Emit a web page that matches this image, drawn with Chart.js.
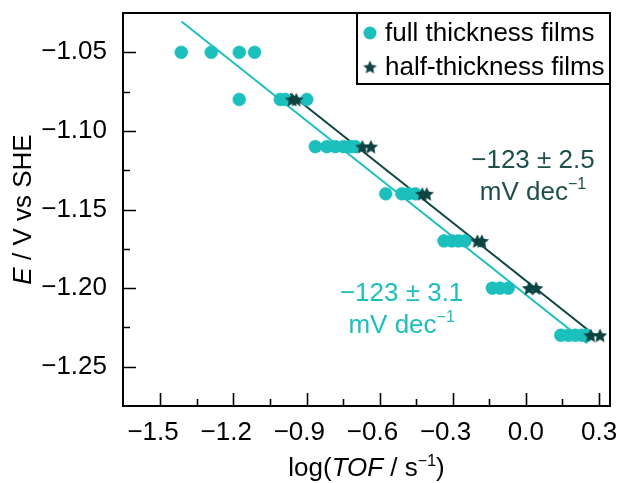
<!DOCTYPE html>
<html>
<head>
<meta charset="utf-8">
<script src="https://cdn.jsdelivr.net/npm/chart.js@4.4.1/dist/chart.umd.min.js"></script>
<style>
  html, body { margin: 0; padding: 0; background: #ffffff; }
  canvas { display: block; }
</style>
</head>
<body>
<canvas id="tafel" width="619" height="483"></canvas>
<script>
// Tafel plot: potential vs log(turnover frequency)
const fullLogTOF = [-1.414, -1.291, -1.176, -1.113,
                    -1.176, -1.008, -0.987, -0.899,
                    -0.864, -0.817, -0.782, -0.748, -0.721, -0.700,
                    -0.575, -0.509, -0.483, -0.454,
                    -0.336, -0.304, -0.277, -0.250,
                    -0.138, -0.106, -0.072,
                    0.143, 0.174, 0.202, 0.229, 0.250];
const fullE = [-1.05, -1.05, -1.05, -1.05,
               -1.08, -1.08, -1.08, -1.08,
               -1.11, -1.11, -1.11, -1.11, -1.11, -1.11,
               -1.14, -1.14, -1.14, -1.14,
               -1.17, -1.17, -1.17, -1.17,
               -1.20, -1.20, -1.20,
               -1.23, -1.23, -1.23, -1.23, -1.23];
const halfLogTOF = [-0.959, -0.942, -0.671, -0.636, -0.425, -0.407,
                    -0.199, -0.181, 0.013, 0.042, 0.266, 0.304];
const halfE = [-1.08, -1.08, -1.11, -1.11, -1.14, -1.14,
               -1.17, -1.17, -1.20, -1.20, -1.23, -1.23];
const seriesNames = ['full thickness films', 'half-thickness films'];

// Tafel fits (slope in V per decade, intercept in V, span of log TOF covered)
const fullSlope = -0.123, fullIntercept = -1.2042, fullFitSpan = [-1.413, 0.251];
const halfSlope = -0.123, halfIntercept = -1.1953, halfFitSpan = [-0.967, 0.277];
const fullSlopeText = '−123 ± 3.1';
const halfSlopeText = '−123 ± 2.5';

const xTickValues = [-1.5, -1.2, -0.9, -0.6, -0.3, 0.0, 0.3];
const xMinorValues = [-1.35, -1.05, -0.75, -0.45, -0.15, 0.15];
const yTickValues = [-1.05, -1.10, -1.15, -1.20, -1.25];
const yMinorValues = [-1.075, -1.125, -1.175, -1.225];

const CYAN = '#1bbfbc';
const DARK = '#0d4441';
const DARK_TEXT = '#1d4f4c';
const FONT = '"Liberation Sans", Arial, Helvetica, sans-serif';
const FS = 26;

function toPoints(xs, ys) { return xs.map((x, i) => ({ x: x, y: ys[i] })); }
function fitLine(slope, intercept, span) {
  return span.map(x => ({ x: x, y: intercept + slope * x }));
}
function signed(v, digits) {
  const s = Math.abs(v).toFixed(digits);
  return (v < -1e-9 ? '−' : '') + s;
}
// the number itself sits centred under its tick; the minus sign hangs to the left
function centredOnDigits(v, digits) {
  return v < -1e-9 ? signed(v, digits) + '  ' : signed(v, digits);
}

// filled five-pointed star used as the marker of the half-thickness series
function makeStar(radius, color) {
  const size = Math.ceil(radius * 2 + 2);
  const c = document.createElement('canvas');
  c.width = size; c.height = size;
  const g = c.getContext('2d');
  const cx = size / 2, cy = size / 2 + radius * 0.1;
  g.beginPath();
  for (let i = 0; i < 10; i++) {
    const r = i % 2 === 0 ? radius : radius * 0.47;
    const a = -Math.PI / 2 + i * Math.PI / 5;
    g.lineTo(cx + r * Math.cos(a), cy + r * Math.sin(a));
  }
  g.closePath();
  g.fillStyle = color;
  g.fill();
  return c;
}
const starMarker = makeStar(7.6, DARK);
const starLegend = makeStar(7.2, DARK);

// text with an optional superscript part, drawn left to right
function drawRuns(ctx, runs, x, y) {
  let cx = x;
  runs.forEach(r => {
    ctx.font = r.font;
    ctx.fillText(r.text, cx, y + (r.dy || 0));
    cx += ctx.measureText(r.text).width;
  });
  return cx - x;
}
function runsWidth(ctx, runs) {
  let w = 0;
  runs.forEach(r => { ctx.font = r.font; w += ctx.measureText(r.text).width; });
  return w;
}

const frameTicks = {
  id: 'frameTicks',
  afterDatasetsDraw(chart) {
    const { ctx, chartArea: a, scales } = chart;
    ctx.save();
    ctx.strokeStyle = '#000';
    ctx.lineWidth = 1.6;
    const major = 13, minor = 7;
    ctx.beginPath();
    xTickValues.forEach(v => {
      const px = Math.round(scales.x.getPixelForValue(v)) + 0.5;
      ctx.moveTo(px, a.bottom); ctx.lineTo(px, a.bottom - major);
    });
    xMinorValues.forEach(v => {
      const px = Math.round(scales.x.getPixelForValue(v)) + 0.5;
      ctx.moveTo(px, a.bottom); ctx.lineTo(px, a.bottom - minor);
    });
    yTickValues.forEach(v => {
      const py = Math.round(scales.y.getPixelForValue(v)) + 0.5;
      ctx.moveTo(a.left, py); ctx.lineTo(a.left + major, py);
    });
    yMinorValues.forEach(v => {
      const py = Math.round(scales.y.getPixelForValue(v)) + 0.5;
      ctx.moveTo(a.left, py); ctx.lineTo(a.left + minor, py);
    });
    ctx.stroke();
    ctx.lineWidth = 2;
    ctx.strokeRect(a.left, a.top, a.right - a.left, a.bottom - a.top);
    ctx.restore();
  }
};

const annotations = {
  id: 'annotations',
  afterDatasetsDraw(chart) {
    const { ctx, scales } = chart;
    const big = FS + 'px ' + FONT, sup = '16px ' + FONT;
    const labels = [
      { text: halfSlopeText, color: DARK_TEXT, x: 0.029, y1: -1.1189, y2: -1.1393 },
      { text: fullSlopeText, color: CYAN, x: -0.510, y1: -1.2035, y2: -1.2239 }
    ];
    ctx.save();
    ctx.textBaseline = 'middle';
    labels.forEach(l => {
      const cx = scales.x.getPixelForValue(l.x);
      ctx.fillStyle = l.color;
      ctx.font = big;
      const w1 = ctx.measureText(l.text).width;
      ctx.fillText(l.text, cx - w1 / 2, scales.y.getPixelForValue(l.y1));
      const runs = [{ text: 'mV dec', font: big }, { text: '−1', font: sup, dy: -8 }];
      const w2 = runsWidth(ctx, runs);
      drawRuns(ctx, runs, cx - w2 / 2, scales.y.getPixelForValue(l.y2));
    });
    ctx.restore();
  }
};

const boxLegend = {
  id: 'boxLegend',
  afterDraw(chart) {
    const { ctx, chartArea: a } = chart;
    const w = 253, h = 71;
    const left = a.right - w, top = a.top;
    ctx.save();
    ctx.fillStyle = '#fff';
    ctx.fillRect(left, top, w, h);
    ctx.strokeStyle = '#000';
    ctx.lineWidth = 2;
    ctx.strokeRect(left, top, w, h);
    const rows = [top + 20, top + 54];
    const mx = left + 13;
    ctx.fillStyle = CYAN;
    ctx.beginPath();
    ctx.arc(mx, rows[0], 6.5, 0, Math.PI * 2);
    ctx.fill();
    ctx.drawImage(starLegend, mx - starLegend.width / 2, rows[1] - starLegend.height / 2);
    ctx.fillStyle = '#000';
    ctx.font = FS + 'px ' + FONT;
    ctx.textBaseline = 'middle';
    ctx.fillText(seriesNames[0], left + 28, rows[0] + 1);
    ctx.fillText(seriesNames[1], left + 28, rows[1] + 1);
    ctx.restore();
  }
};

const axisTitles = {
  id: 'axisTitles',
  afterDraw(chart) {
    const { ctx, chartArea: a } = chart;
    const big = FS + 'px ' + FONT, ital = 'italic ' + FS + 'px ' + FONT, sup = '16px ' + FONT;
    ctx.save();
    ctx.fillStyle = '#000';
    ctx.textBaseline = 'alphabetic';
    const xRuns = [
      { text: 'log(', font: big }, { text: 'TOF', font: ital },
      { text: ' / s', font: big }, { text: '−1', font: sup, dy: -10 },
      { text: ')', font: big }
    ];
    const xw = runsWidth(ctx, xRuns);
    drawRuns(ctx, xRuns, (a.left + a.right) / 2 - xw / 2, 476);
    const yRuns = [{ text: 'E', font: ital }, { text: ' / V vs SHE', font: big }];
    const yw = runsWidth(ctx, yRuns);
    ctx.translate(31, (a.top + a.bottom) / 2);
    ctx.rotate(-Math.PI / 2);
    drawRuns(ctx, yRuns, -yw / 2, 0);
    ctx.restore();
  }
};

new Chart(document.getElementById('tafel'), {
  type: 'scatter',
  data: {
    datasets: [
      {
        label: 'full fit', data: fitLine(fullSlope, fullIntercept, fullFitSpan),
        showLine: true, borderColor: CYAN, borderWidth: 2, pointRadius: 0, order: 4
      },
      {
        label: 'half fit', data: fitLine(halfSlope, halfIntercept, halfFitSpan),
        showLine: true, borderColor: DARK, borderWidth: 2, pointRadius: 0, order: 3
      },
      {
        label: seriesNames[0], data: toPoints(fullLogTOF, fullE),
        pointStyle: 'circle', pointRadius: 6.4, backgroundColor: CYAN,
        borderColor: CYAN, borderWidth: 0.6, order: 2
      },
      {
        label: seriesNames[1], data: toPoints(halfLogTOF, halfE),
        pointStyle: starMarker, pointRadius: 8, order: 1
      }
    ]
  },
  options: {
    responsive: false,
    animation: false,
    devicePixelRatio: 1,
    layout: { padding: { top: 13, right: 9, left: 0, bottom: 0 } },
    plugins: { legend: { display: false }, tooltip: { enabled: false } },
    scales: {
      x: {
        type: 'linear', min: -1.653, max: 0.345,
        afterBuildTicks: s => { s.ticks = xTickValues.map(v => ({ value: v })); },
        afterFit: s => { s.height = 77; s.paddingLeft = 0; s.paddingRight = 0; },
        grid: { display: false, drawTicks: false },
        border: { display: false },
        ticks: {
          padding: 11, color: '#000', maxRotation: 0, autoSkip: false,
          font: { family: FONT, size: FS },
          callback: v => centredOnDigits(v, 1)
        }
      },
      y: {
        type: 'linear', min: -1.275, max: -1.025,
        afterBuildTicks: s => { s.ticks = yTickValues.map(v => ({ value: v })); },
        afterFit: s => { s.width = 123; s.paddingTop = 0; s.paddingBottom = 0; },
        grid: { display: false, drawTicks: false },
        border: { display: false },
        ticks: {
          padding: 16, color: '#000', autoSkip: false,
          font: { family: FONT, size: FS },
          callback: v => signed(v, 2)
        }
      }
    }
  },
  plugins: [frameTicks, annotations, boxLegend, axisTitles]
});
</script>
</body>
</html>
